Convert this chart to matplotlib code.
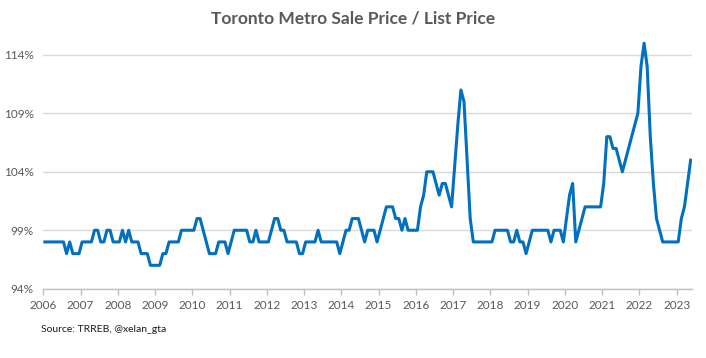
import matplotlib
matplotlib.use("Agg")
import matplotlib.pyplot as plt
import numpy as np

# ---- data (monthly sale price / list price, %) ----
years = list(range(2006, 2024))
y2006 = [98, 98, 98, 98, 98, 98, 98, 97, 98, 97, 97, 97]
y2007 = [98, 98, 98, 98, 99, 99, 98, 98, 99, 99, 98, 98]
y2008 = [98, 99, 98, 99, 98, 98, 98, 97, 97, 97, 96, 96]
y2009 = [96, 96, 97, 97, 98, 98, 98, 98, 99, 99, 99, 99]
y2010 = [99, 100, 100, 99, 98, 97, 97, 97, 98, 98, 98, 97]
y2011 = [98, 99, 99, 99, 99, 99, 98, 98, 99, 98, 98, 98]
y2012 = [98, 99, 100, 100, 99, 99, 98, 98, 98, 98, 97, 97]
y2013 = [98, 98, 98, 98, 99, 98, 98, 98, 98, 98, 98, 97]
y2014 = [98, 99, 99, 100, 100, 100, 99, 98, 99, 99, 99, 98]
y2015 = [99, 100, 101, 101, 101, 100, 100, 99, 100, 99, 99, 99]
y2016 = [99, 101, 102, 104, 104, 104, 103, 102, 103, 103, 102, 101]
y2017 = [104.5, 108, 111, 110, 105, 100, 98, 98, 98, 98, 98, 98]
y2018 = [98, 99, 99, 99, 99, 99, 98, 98, 99, 98, 98, 97]
y2019 = [98, 99, 99, 99, 99, 99, 99, 98, 99, 99, 99, 98]
y2020 = [100, 102, 103, 98, 99, 100, 101, 101, 101, 101, 101, 101]
y2021 = [103, 107, 107, 106, 106, 105, 104, 105, 106, 107, 108, 109]
y2022 = [113, 115, 113, 107, 103, 100, 99, 98, 98, 98, 98, 98]
y2023 = [98, 100, 101, 103, 105]

series = (y2006 + y2007 + y2008 + y2009 + y2010 + y2011 + y2012 + y2013 +
          y2014 + y2015 + y2016 + y2017 + y2018 + y2019 + y2020 + y2021 +
          y2022 + y2023)
yticks = [94, 99, 104, 109, 114]

title = "Toronto Metro Sale Price / List Price"
source = "Source: TRREB, @xelan_gta"

plt.rcParams['font.family'] = ['Lato', 'DejaVu Sans']

fig = plt.figure(figsize=(7.06, 3.58), dpi=100)
ax = fig.add_axes([43.3 / 706, (358 - 288.7) / 358, (692.2 - 43.3) / 706, (288.7 - 31.5) / 358])

n = len(series)
x = np.arange(n) + 0.5
ax.plot(x, series, color='#0070C0', linewidth=2.2, solid_joinstyle='round', zorder=3)

ax.set_xlim(0, n)
ax.set_ylim(94, 116)
ax.set_yticks(yticks)
ax.set_yticklabels([f"{v}%" for v in yticks])
ax.set_xticks([12 * i for i in range(len(years))])
ax.set_xticklabels([str(y) for y in years])

ax.grid(axis='y', color='#D9D9D9', linewidth=1.0)
ax.set_axisbelow(True)
for s in ['top', 'right', 'left']:
    ax.spines[s].set_visible(False)
ax.spines['bottom'].set_color('#BFBFBF')
ax.spines['bottom'].set_linewidth(1.0)
ax.spines['bottom'].set_zorder(1)

ax.tick_params(axis='y', length=0, pad=7, labelsize=8.5, labelcolor='#595959')
ax.tick_params(axis='x', length=4, width=1, color='#BFBFBF', pad=4, labelsize=8.5,
               labelcolor='#595959')

fig.text(0.5, 1 - 18 / 358, title, ha='center', va='center', fontsize=12.5,
         fontweight='bold', color='#595959')
fig.text(41 / 706, 1 - 330 / 358, source, ha='left', va='center', fontsize=7.5,
         color='#1a1a1a')

fig.savefig('out.png', dpi=100)
